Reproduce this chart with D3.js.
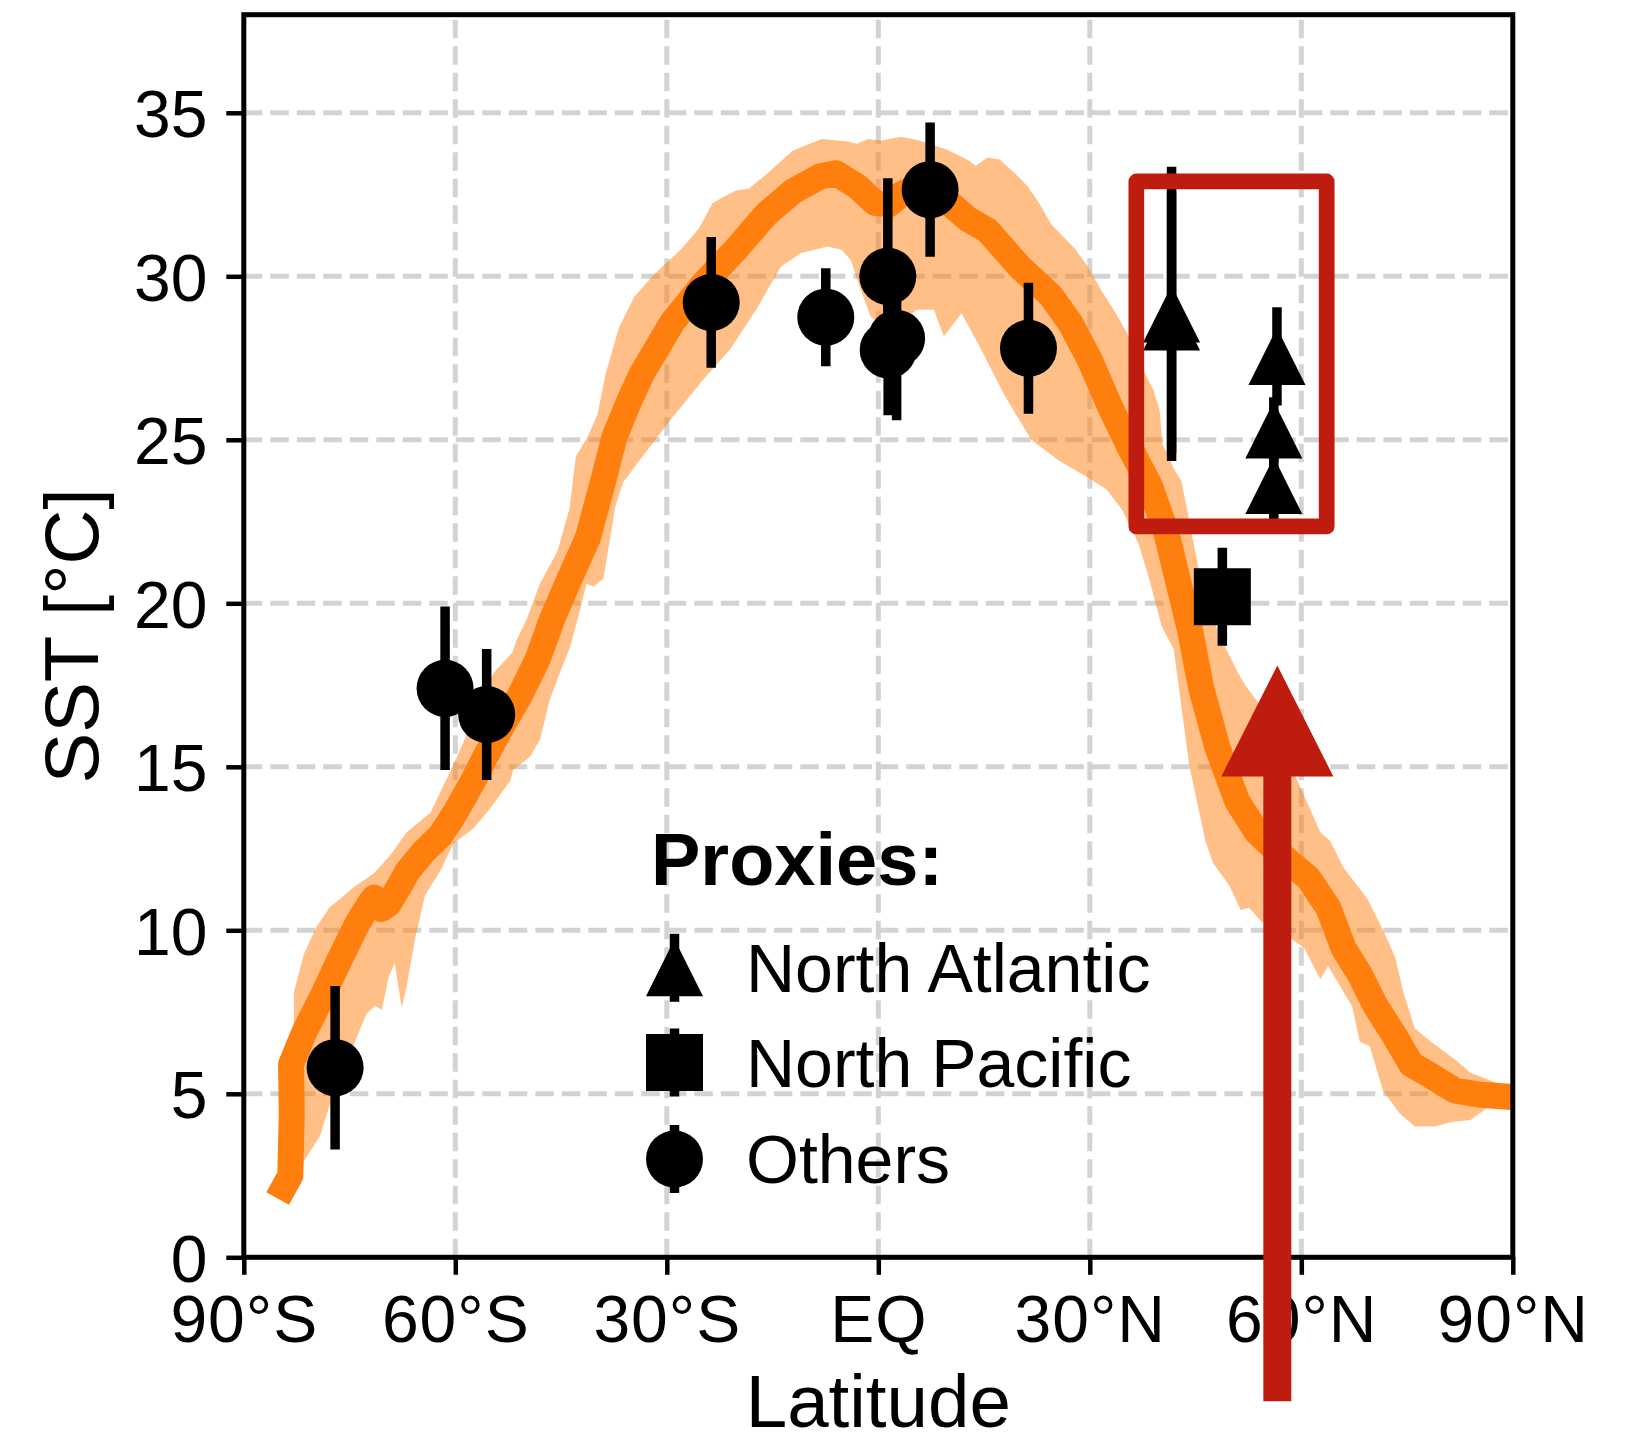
<!DOCTYPE html>
<html>
<head>
<meta charset="utf-8">
<script src="https://cdn.jsdelivr.net/npm/d3@7"></script>
<style>
  body { margin: 0; background: #fff; }
  svg { display: block; }
  text { font-family: "Liberation Sans", Arial, Helvetica, sans-serif; fill: #000; }
</style>
</head>
<body>
<svg id="chart" width="1639" height="1438"></svg>
<script>
// Zonal-mean sea surface temperature: simulated mean (line), simulated spread (band)
// and proxy reconstructions with their uncertainties.

// Simulated zonal mean SST [lat, °C]
const modelMean = [
  [-85.2, 1.8], [-83.4, 2.5], [-83.2, 4.4], [-83.3, 5.9], [-81.5, 6.85], [-78.7, 8.05],
  [-76.3, 9.15], [-73.9, 10.2], [-72.2, 10.8], [-71.5, 11.0], [-70.5, 10.65], [-69.5, 10.8],
  [-67.8, 11.4], [-66.8, 11.8], [-64.5, 12.4], [-62.1, 12.9], [-60.0, 13.6], [-57.4, 14.6],
  [-56.0, 15.2], [-53.5, 16.2], [-50.8, 17.2], [-48.3, 18.3], [-46.3, 19.5], [-43.9, 20.7],
  [-41.2, 22.0], [-39.2, 23.6], [-37.4, 25.1], [-35.5, 26.1], [-33.6, 27.0], [-29.2, 28.6],
  [-24.7, 29.8], [-20.3, 30.8], [-15.9, 31.9], [-12.1, 32.6], [-8.3, 33.05], [-6.0, 33.15],
  [-3.0, 32.75], [-0.5, 32.25], [1.5, 32.2], [3.2, 32.5], [5.0, 32.7], [7.5, 32.6],
  [10.0, 32.25], [12.7, 31.75], [15.5, 31.4], [20.0, 30.3], [24.5, 29.4], [27.3, 28.55],
  [30.1, 27.4], [32.9, 26.0], [35.7, 24.75], [38.5, 23.6], [40.8, 22.2], [42.5, 20.7],
  [44.2, 19.2], [45.8, 17.4], [48.1, 15.6], [50.9, 13.95], [53.7, 13.0], [57.1, 12.3],
  [61.0, 11.6], [63.8, 10.7], [66.0, 9.45], [68.3, 8.65], [70.5, 7.7], [73.3, 6.75],
  [75.6, 5.9], [78.4, 5.55], [81.8, 5.1], [85.1, 4.98], [89.8, 4.9]
];

// Upper edge of the simulated spread [lat, °C]
const modelUpper = [
  [-82.9, 6.0], [-82.9, 8.1], [-81.5, 9.26], [-79.7, 10.1], [-77.8, 10.71], [-76.4, 10.95],
  [-74.5, 11.31], [-71.6, 11.73], [-69.3, 12.27], [-66.9, 13.0], [-63.5, 13.6], [-60.4, 15.0],
  [-57.5, 16.4], [-54.6, 17.86], [-51.9, 18.5], [-51.3, 18.88], [-49.9, 19.5], [-48.0, 20.6],
  [-45.5, 21.6], [-43.8, 22.9], [-42.9, 24.5], [-41.2, 25.1], [-39.8, 25.8], [-38.7, 27.0],
  [-36.8, 28.43], [-34.6, 29.38], [-31.7, 30.08], [-27.9, 30.84], [-25.4, 31.48], [-23.5, 32.24],
  [-20.3, 32.62], [-18.4, 32.68], [-16.0, 33.1], [-12.1, 33.85], [-8.0, 34.2], [-4.4, 34.12],
  [-3.0, 34.05], [-1.5, 34.2], [0.4, 34.15], [3.2, 34.27], [5.6, 34.17], [9.8, 33.87],
  [12.7, 33.56], [13.8, 33.38], [15.5, 33.63], [17.2, 33.57], [19.5, 33.13], [21.2, 32.75],
  [22.8, 32.24], [24.5, 31.6], [26.2, 31.22], [27.9, 30.84], [29.6, 30.33], [31.6, 29.58],
  [33.5, 28.94], [35.2, 28.3], [37.1, 27.34], [39.0, 26.53], [39.9, 25.9], [40.3, 24.88],
  [41.9, 24.12], [43.0, 23.74], [44.0, 22.65], [44.9, 21.63], [45.8, 20.69], [47.5, 19.5],
  [49.4, 18.58], [50.8, 17.97], [52.0, 17.51], [54.8, 16.69], [57.0, 15.6], [59.3, 14.65],
  [62.7, 13.0], [64.1, 12.73], [66.0, 11.91], [69.4, 10.96], [71.6, 10.0], [73.3, 9.19],
  [74.5, 8.09], [76.1, 7.0], [78.4, 6.59], [81.8, 6.05], [84.0, 5.64], [87.4, 5.36], [89.8, 5.2]
];

// Lower edge of the simulated spread [lat, °C]
const modelLower = [
  [-82.9, 2.5], [-81.6, 2.9], [-79.2, 3.7], [-77.8, 4.67], [-76.0, 5.6], [-74.0, 6.72],
  [-72.6, 7.45], [-71.4, 7.69], [-70.4, 7.57], [-69.5, 8.53], [-68.6, 9.01], [-67.6, 7.63],
  [-66.9, 8.29], [-65.7, 9.74], [-64.3, 11.07], [-62.2, 11.79], [-60.3, 12.64], [-57.4, 13.12],
  [-55.1, 13.72], [-52.2, 14.57], [-51.8, 14.9], [-49.4, 15.31], [-48.0, 15.83], [-46.6, 17.05],
  [-45.2, 17.86], [-43.7, 18.68], [-42.3, 19.8], [-41.4, 20.6], [-40.4, 20.51], [-39.0, 20.75],
  [-37.3, 22.96], [-36.2, 23.7], [-33.0, 24.62], [-29.5, 25.6], [-25.0, 26.8], [-20.9, 27.8],
  [-17.1, 29.06], [-13.8, 30.3], [-11.0, 30.71], [-7.2, 30.91], [-5.2, 30.81], [-3.9, 30.5],
  [-2.5, 29.59], [-1.1, 28.77], [0.5, 28.5], [3.0, 28.6], [5.5, 28.98], [7.9, 28.98],
  [9.3, 28.16], [10.5, 28.5], [11.8, 28.87], [14.5, 27.8], [17.8, 26.4], [21.7, 25.0],
  [25.6, 24.37], [29.6, 23.86], [32.4, 23.48], [34.6, 22.85], [36.9, 21.83], [38.5, 20.69],
  [40.2, 19.29], [41.9, 18.6], [44.1, 15.05], [46.4, 12.73], [47.5, 12.05], [49.8, 11.37],
  [51.4, 10.62], [52.6, 10.69], [54.3, 10.28], [58.7, 9.73], [60.4, 9.46], [62.7, 8.5],
  [63.8, 8.91], [67.2, 7.68], [68.3, 6.59], [69.7, 6.46], [71.6, 5.09], [73.9, 4.41],
  [76.1, 4.0], [79.0, 4.0], [81.2, 4.13], [84.0, 4.2], [86.2, 4.54], [88.5, 4.82], [89.8, 4.9]
];

// Proxy reconstructions: latitude, SST and ± uncertainty (°C)
const northAtlantic = [
  { lat: 41.6, sst: 28.85, err: 4.5 },
  { lat: 41.6, sst: 28.6, err: 4.0 },
  { lat: 56.55, sst: 27.55, err: 1.5 },
  { lat: 56.1, sst: 25.3, err: 1.0 },
  { lat: 56.1, sst: 23.6, err: 1.05 }
];
const northPacific = [
  { lat: 48.8, sst: 20.2, err: 1.5 }
];
const others = [
  { lat: -77.05, sst: 5.8, err: 2.5 },
  { lat: -61.45, sst: 17.4, err: 2.5 },
  { lat: -55.55, sst: 16.6, err: 2.0 },
  { lat: -23.7, sst: 29.2, err: 2.0 },
  { lat: -7.45, sst: 28.75, err: 1.5 },
  { lat: 1.35, sst: 30.0, err: 3.0 },
  { lat: 2.6, sst: 28.1, err: 2.5 },
  { lat: 1.4, sst: 27.75, err: 2.0 },
  { lat: 7.35, sst: 32.65, err: 2.05 },
  { lat: 21.3, sst: 27.8, err: 2.0 }
];

const latTicks = [-90, -60, -30, 0, 30, 60, 90];
const latTickLabels = ["90°S", "60°S", "30°S", "EQ", "30°N", "60°N", "90°N"];
const sstTicks = [0, 5, 10, 15, 20, 25, 30, 35];

const legendTitle = "Proxies:";
const legendItems = [
  { label: "North Atlantic", shape: "triangle" },
  { label: "North Pacific", shape: "square" },
  { label: "Others", shape: "circle" }
];

// Highlighted region and pointer arrow, in data units
const highlightBox = { lat0: 36.6, lat1: 63.6, sst0: 22.35, sst1: 32.9 };
const pointerArrow = { lat: 56.6, sstTail: -4.4, sstTip: 18.1 };

// ---------------------------------------------------------------------------
const svg = d3.select("#chart");
const plot = { left: 243.8, right: 1512.8, top: 14.7, bottom: 1257.3 };

const x = d3.scaleLinear().domain([-90, 90]).range([plot.left, plot.right]);
const y = d3.scaleLinear().domain([0, 38]).range([plot.bottom, plot.top]);

const ORANGE = "#ff7f0e";
const RED = "#be1c0e";
const GRID = "#d3d3d3";
const MARKER = 57;
const ERR_W = 9.5;

svg.append("defs").append("clipPath").attr("id", "plot-clip")
  .append("rect")
  .attr("x", plot.left).attr("y", plot.top)
  .attr("width", plot.right - plot.left).attr("height", plot.bottom - plot.top);

// Grid
const grid = svg.append("g").attr("class", "grid")
  .attr("stroke", GRID).attr("stroke-width", 5).attr("stroke-dasharray", "18.5,8");
grid.selectAll("line.v").data(latTicks.filter(d => d > -90 && d < 90)).join("line")
  .attr("class", "v")
  .attr("x1", d => x(d)).attr("x2", d => x(d))
  .attr("y1", plot.bottom).attr("y2", plot.top);
grid.selectAll("line.h").data(sstTicks.filter(d => d > 0)).join("line")
  .attr("class", "h")
  .attr("x1", plot.left).attr("x2", plot.right)
  .attr("y1", d => y(d)).attr("y2", d => y(d));

// Simulated spread and mean
const model = svg.append("g").attr("clip-path", "url(#plot-clip)");
const lineGen = d3.line().x(d => x(d[0])).y(d => y(d[1]));
const bandPoints = modelUpper.concat(modelLower.slice().reverse());
model.append("path")
  .attr("d", lineGen(bandPoints) + "Z")
  .attr("fill", ORANGE).attr("fill-opacity", 0.5).attr("stroke", "none");
model.append("path")
  .attr("d", lineGen(modelMean))
  .attr("fill", "none").attr("stroke", ORANGE).attr("stroke-width", 26)
  .attr("stroke-linejoin", "round").attr("stroke-linecap", "butt");

// Marker shapes centred on (cx, cy)
function markerPath(shape, cx, cy, s) {
  const h = s / 2;
  if (shape === "triangle") {
    return `M${cx},${cy - h}L${cx + h},${cy + h}L${cx - h},${cy + h}Z`;
  }
  return `M${cx - h},${cy - h}H${cx + h}V${cy + h}H${cx - h}Z`;
}

function drawProxies(data, shape) {
  const g = svg.append("g");
  g.selectAll("line").data(data).join("line")
    .attr("x1", d => x(d.lat)).attr("x2", d => x(d.lat))
    .attr("y1", d => y(d.sst - d.err)).attr("y2", d => y(d.sst + d.err))
    .attr("stroke", "#000").attr("stroke-width", ERR_W);
  if (shape === "circle") {
    g.selectAll("circle").data(data).join("circle")
      .attr("cx", d => x(d.lat)).attr("cy", d => y(d.sst))
      .attr("r", MARKER / 2).attr("fill", "#000");
  } else {
    g.selectAll("path").data(data).join("path")
      .attr("d", d => markerPath(shape, x(d.lat), y(d.sst), MARKER))
      .attr("fill", "#000");
  }
}
drawProxies(others, "circle");
drawProxies(northPacific, "square");
drawProxies(northAtlantic, "triangle");

// Axes
const fontTick = 66;
const xAxis = d3.axisBottom(x).tickValues(latTicks)
  .tickFormat((d, i) => latTickLabels[i]).tickSize(17.5).tickSizeOuter(0);
const gx = svg.append("g").attr("transform", `translate(0,${plot.bottom})`).call(xAxis);
gx.select(".domain").remove();
gx.selectAll(".tick line").attr("stroke", "#000").attr("stroke-width", 4.5);
gx.selectAll(".tick text")
  .attr("font-size", fontTick)
  .attr("y", 84.5).attr("dy", null).attr("fill", "#000")
  .attr("letter-spacing", 1);

const yAxis = d3.axisLeft(y).tickValues(sstTicks).tickFormat(d3.format("d"))
  .tickSize(17.5).tickSizeOuter(0);
const gy = svg.append("g").attr("transform", `translate(${plot.left},0)`).call(yAxis);
gy.select(".domain").remove();
gy.selectAll(".tick line").attr("stroke", "#000").attr("stroke-width", 4.5);
gy.selectAll(".tick text")
  .attr("font-size", fontTick)
  .attr("x", -36.3).attr("dy", "0.36em").attr("fill", "#000");
gx.attr("font-family", null).attr("font-size", null);
gy.attr("font-family", null).attr("font-size", null);

// Spines
svg.append("rect")
  .attr("x", plot.left).attr("y", plot.top)
  .attr("width", plot.right - plot.left).attr("height", plot.bottom - plot.top)
  .attr("fill", "none").attr("stroke", "#000").attr("stroke-width", 5);

// Axis titles
svg.append("text")
  .attr("x", x(0)).attr("y", 1427)
  .attr("text-anchor", "middle").attr("font-size", 74.5)
  .text("Latitude");
svg.append("text")
  .attr("transform", `translate(98,${(plot.top + plot.bottom) / 2}) rotate(-90)`)
  .attr("text-anchor", "middle").attr("font-size", 76)
  .text("SST [°C]");

// Legend
const legend = svg.append("g");
legend.append("text")
  .attr("x", 651).attr("y", 885)
  .attr("font-size", 74).attr("font-weight", "bold")
  .text(legendTitle);
const legendX = 674.5;
const legendRowY = [967.8, 1062.5, 1159];
legendItems.forEach((item, i) => {
  const cy = legendRowY[i];
  legend.append("line")
    .attr("x1", legendX).attr("x2", legendX)
    .attr("y1", cy - 34).attr("y2", cy + 34)
    .attr("stroke", "#000").attr("stroke-width", ERR_W);
  if (item.shape === "circle") {
    legend.append("circle").attr("cx", legendX).attr("cy", cy).attr("r", MARKER / 2).attr("fill", "#000");
  } else {
    legend.append("path").attr("d", markerPath(item.shape, legendX, cy, MARKER)).attr("fill", "#000");
  }
  legend.append("text")
    .attr("x", 746).attr("y", cy + 24)
    .attr("font-size", 68)
    .text(item.label);
});

// Highlight box around the North Atlantic proxies
svg.append("rect")
  .attr("x", x(highlightBox.lat0)).attr("y", y(highlightBox.sst1))
  .attr("width", x(highlightBox.lat1) - x(highlightBox.lat0))
  .attr("height", y(highlightBox.sst0) - y(highlightBox.sst1))
  .attr("fill", "none").attr("stroke", RED).attr("stroke-width", 15.7)
  .attr("stroke-linejoin", "round");

// Upward arrow pointing at the high-latitude model curve
(function () {
  const cx = x(pointerArrow.lat);
  const yTail = y(pointerArrow.sstTail);
  const yTip = y(pointerArrow.sstTip);
  const headLen = 111, headW = 112, shaftW = 28;
  const yBase = yTip + headLen;
  const p = d3.path();
  p.moveTo(cx - shaftW / 2, yTail);
  p.lineTo(cx - shaftW / 2, yBase);
  p.lineTo(cx - headW / 2, yBase);
  p.lineTo(cx, yTip);
  p.lineTo(cx + headW / 2, yBase);
  p.lineTo(cx + shaftW / 2, yBase);
  p.lineTo(cx + shaftW / 2, yTail);
  p.closePath();
  svg.append("path").attr("d", p.toString()).attr("fill", RED);
})();
</script>
</body>
</html>
